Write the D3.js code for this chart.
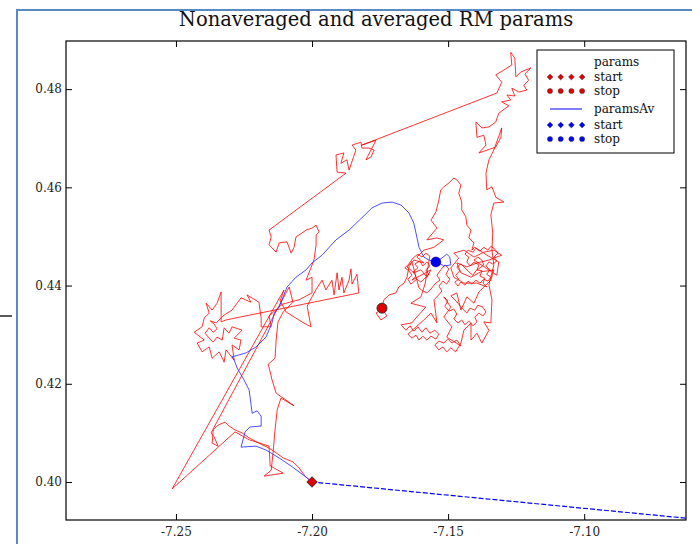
<!DOCTYPE html>
<html>
<head>
<meta charset="utf-8">
<script src="https://cdn.jsdelivr.net/npm/d3@7"></script>
<style>
    body { margin: 0; background: #fff; }
    text { font-family: "DejaVu Serif", serif; }
</style>
</head>
<body>
<div id="chart"></div>
<script>
// params (non averaged), one line per stretch of the walk
const paramsX = [
    -7.2000, -7.2026, -7.2048, -7.2070, -7.2106, -7.2136, -7.2158, -7.2187, -7.2209, -7.2231, -7.2257, -7.2283, -7.2305, -7.2319, -7.2345, -7.2363, -7.2367, -7.2345, -7.2360, -7.2371,
    -7.2084, -7.2070, -7.2106, -7.2125, -7.2132, -7.2136, -7.2161, -7.2147, -7.2132, -7.2066, -7.2114, -7.2128, -7.2136, -7.2143, -7.2150, -7.2176, -7.2106, -7.2154, -7.2158, -7.2231, -7.2283, -7.2514,
    -7.2103, -7.2117, -7.2095, -7.2037, -7.2004, -7.2018, -7.2000, -7.1982, -7.1963, -7.1949, -7.1927, -7.1919, -7.1908, -7.1901, -7.1890, -7.1883, -7.1864, -7.1857, -7.1853, -7.1835, -7.1828,
    -7.2316, -7.2334, -7.2334, -7.2349, -7.2367, -7.2389, -7.2378, -7.2396, -7.2404, -7.2433, -7.2396, -7.2422, -7.2404, -7.2378, -7.2367, -7.2341, -7.2323, -7.2316, -7.2286, -7.2294, -7.2268, -7.2261, -7.2286, -7.2257, -7.2294, -7.2305, -7.2323, -7.2330, -7.2349,
    -7.2363, -7.2378, -7.2393, -7.2378, -7.2363, -7.2349, -7.2360, -7.2374,
    -7.2352, -7.2323, -7.2294, -7.2261, -7.2224, -7.2239, -7.2195, -7.2187, -7.2187, -7.2150, -7.2158, -7.2110, -7.2048, -7.2000, -7.2000, -7.2022, -7.2004, -7.1993, -7.1985, -7.1985, -7.1974, -7.1985, -7.2000, -7.2022, -7.2037, -7.2059, -7.2066, -7.2077, -7.2092, -7.2121, -7.2132, -7.2158, -7.2150, -7.2158,
    -7.1875, -7.1908, -7.1912, -7.1883, -7.1894, -7.1872, -7.1864, -7.1839, -7.1853, -7.1820, -7.1817, -7.1791, -7.1772, -7.1783, -7.1802, -7.1765, -7.1817,
    -7.1321, -7.1303, -7.1325, -7.1295, -7.1266, -7.1270, -7.1255, -7.1251, -7.1233, -7.1196, -7.1218, -7.1204, -7.1222, -7.1211, -7.1240, -7.1266, -7.1255, -7.1284, -7.1270, -7.1303, -7.1277, -7.1314, -7.1325, -7.1350, -7.1376, -7.1398, -7.1394, -7.1369, -7.1361, -7.1387, -7.1325, -7.1306, -7.1303,
    -7.1332, -7.1350, -7.1361, -7.1358, -7.1339, -7.1325, -7.1295, -7.1332, -7.1343, -7.1336, -7.1339, -7.1332, -7.1350, -7.1339, -7.1343, -7.1369, -7.1350, -7.1376, -7.1394, -7.1416, -7.1416, -7.1442, -7.1453, -7.1472,
    -7.1490, -7.1505, -7.1519, -7.1534, -7.1549, -7.1534, -7.1516, -7.1501, -7.1486, -7.1468, -7.1453,
    -7.1505, -7.1486, -7.1516, -7.1490, -7.1516,
    -7.1501, -7.1512, -7.1497, -7.1479, -7.1468, -7.1479, -7.1464, -7.1450, -7.1438, -7.1424, -7.1409, -7.1394, -7.1402, -7.1387, -7.1372, -7.1361, -7.1372, -7.1391, -7.1402, -7.1420, -7.1431, -7.1446, -7.1461, -7.1475, -7.1490,
    -7.1468, -7.1453, -7.1431, -7.1405, -7.1387, -7.1343, -7.1332, -7.1380, -7.1416, -7.1453, -7.1468, -7.1431, -7.1394, -7.1350, -7.1303, -7.1332, -7.1369, -7.1405, -7.1442, -7.1479, -7.1461, -7.1490, -7.1479, -7.1442, -7.1394, -7.1358,
    -7.1372, -7.1365, -7.1383, -7.1376, -7.1394, -7.1387, -7.1405, -7.1420, -7.1431, -7.1424, -7.1438, -7.1427, -7.1409, -7.1398, -7.1383, -7.1369, -7.1354, -7.1343, -7.1328, -7.1317, -7.1332, -7.1321, -7.1336, -7.1350, -7.1361, -7.1347,
    -7.1358, -7.1343, -7.1354, -7.1369, -7.1383, -7.1398, -7.1413, -7.1427, -7.1438, -7.1453, -7.1464, -7.1475, -7.1461, -7.1472, -7.1457, -7.1468, -7.1453, -7.1438, -7.1424, -7.1409, -7.1398, -7.1383, -7.1369, -7.1376, -7.1391, -7.1405,
    -7.1321, -7.1314, -7.1358, -7.1402, -7.1413, -7.1405, -7.1424, -7.1416, -7.1431, -7.1435, -7.1450, -7.1450, -7.1461, -7.1453, -7.1468, -7.1479, -7.1497, -7.1516, -7.1527, -7.1534, -7.1545, -7.1563, -7.1541, -7.1578, -7.1541, -7.1516, -7.1552, -7.1589, -7.1615, -7.1589, -7.1626, -7.1651, -7.1626, -7.1600, -7.1578, -7.1563, -7.1633,
    -7.1618, -7.1629, -7.1611, -7.1622, -7.1604, -7.1593, -7.1578, -7.1567, -7.1582, -7.1571, -7.1585, -7.1600, -7.1615, -7.1637, -7.1648, -7.1633, -7.1644, -7.1659, -7.1644, -7.1629, -7.1611, -7.1596, -7.1582, -7.1567, -7.1585,
    -7.1600, -7.1637, -7.1582, -7.1615, -7.1633, -7.1673,
    -7.1655, -7.1640, -7.1626, -7.1611, -7.1596, -7.1582, -7.1567, -7.1549, -7.1534, -7.1545, -7.1563, -7.1578, -7.1593, -7.1607, -7.1618, -7.1633, -7.1648,
    -7.1589, -7.1563, -7.1541, -7.1552,
    -7.1538, -7.1523, -7.1534, -7.1519, -7.1505, -7.1494, -7.1508, -7.1497, -7.1512, -7.1527, -7.1541, -7.1530, -7.1549, -7.1563, -7.1578, -7.1593,
    -7.1607, -7.1633, -7.1644, -7.1651, -7.1662, -7.1681, -7.1692, -7.1717, -7.1736, -7.1747, -7.1765, -7.1747, -7.1725, -7.1743
];
const paramsY = [
    0.4000, 0.4012, 0.4029, 0.4041, 0.4049, 0.4061, 0.4069, 0.4077, 0.4083, 0.4090, 0.4100, 0.4106, 0.4114, 0.4122, 0.4116, 0.4106, 0.4079, 0.4073, 0.4092, 0.4100,
    0.4397, 0.4366, 0.4346, 0.4326, 0.4289, 0.4252, 0.4240, 0.4208, 0.4181, 0.4155, 0.4171, 0.4147, 0.4106, 0.4061, 0.4024, 0.4012, 0.4018, 0.4033, 0.4073, 0.4086, 0.4102, 0.3986,
    0.4391, 0.4369, 0.4346, 0.4326, 0.4316, 0.4358, 0.4377, 0.4395, 0.4411, 0.4391, 0.4411, 0.4381, 0.4426, 0.4391, 0.4417, 0.4385, 0.4411, 0.4434, 0.4403, 0.4423, 0.4385,
    0.4330, 0.4326, 0.4387, 0.4364, 0.4350, 0.4364, 0.4344, 0.4334, 0.4316, 0.4305, 0.4289, 0.4283, 0.4265, 0.4275, 0.4252, 0.4265, 0.4244, 0.4269, 0.4248, 0.4279, 0.4269, 0.4289, 0.4293, 0.4309, 0.4316, 0.4303, 0.4314, 0.4289, 0.4295,
    0.4285, 0.4293, 0.4303, 0.4314, 0.4305, 0.4312, 0.4322, 0.4328,
    0.4324, 0.4340, 0.4350, 0.4375, 0.4366, 0.4381, 0.4366, 0.4334, 0.4316, 0.4316, 0.4338, 0.4362, 0.4371, 0.4385, 0.4417, 0.4411, 0.4436, 0.4452, 0.4483, 0.4503, 0.4509, 0.4523, 0.4517, 0.4513, 0.4507, 0.4499, 0.4478, 0.4466, 0.4489, 0.4487, 0.4468, 0.4483, 0.4499, 0.4513,
    0.4629, 0.4631, 0.4666, 0.4670, 0.4649, 0.4656, 0.4635, 0.4676, 0.4686, 0.4692, 0.4680, 0.4680, 0.4676, 0.4662, 0.4656, 0.4696, 0.4686,
    0.4792, 0.4814, 0.4829, 0.4839, 0.4849, 0.4875, 0.4863, 0.4825, 0.4835, 0.4843, 0.4831, 0.4818, 0.4808, 0.4798, 0.4794, 0.4802, 0.4786, 0.4788, 0.4778, 0.4774, 0.4766, 0.4751, 0.4733, 0.4723, 0.4721, 0.4733, 0.4702, 0.4706, 0.4686, 0.4670, 0.4682, 0.4702, 0.4721,
    0.4676, 0.4656, 0.4629, 0.4595, 0.4601, 0.4580, 0.4570, 0.4568, 0.4544, 0.4507, 0.4472, 0.4442, 0.4401, 0.4371, 0.4324, 0.4326, 0.4309, 0.4283, 0.4303, 0.4289, 0.4324, 0.4309, 0.4283, 0.4265,
    0.4273, 0.4265, 0.4275, 0.4269, 0.4279, 0.4287, 0.4283, 0.4291, 0.4283, 0.4289, 0.4277,
    0.4295, 0.4316, 0.4336, 0.4356, 0.4377,
    0.4369, 0.4358, 0.4348, 0.4352, 0.4342, 0.4332, 0.4324, 0.4330, 0.4320, 0.4328, 0.4318, 0.4326, 0.4336, 0.4344, 0.4338, 0.4346, 0.4356, 0.4360, 0.4350, 0.4354, 0.4344, 0.4352, 0.4362, 0.4371, 0.4379,
    0.4385, 0.4350, 0.4377, 0.4364, 0.4387, 0.4411, 0.4432, 0.4428, 0.4417, 0.4426, 0.4446, 0.4438, 0.4446, 0.4452, 0.4462, 0.4472, 0.4468, 0.4458, 0.4472, 0.4466, 0.4456, 0.4436, 0.4417, 0.4405, 0.4405, 0.4397,
    0.4405, 0.4415, 0.4419, 0.4430, 0.4432, 0.4442, 0.4448, 0.4440, 0.4448, 0.4458, 0.4464, 0.4472, 0.4468, 0.4476, 0.4470, 0.4478, 0.4472, 0.4480, 0.4474, 0.4466, 0.4458, 0.4450, 0.4444, 0.4448, 0.4440, 0.4432,
    0.4423, 0.4417, 0.4409, 0.4413, 0.4405, 0.4411, 0.4403, 0.4409, 0.4401, 0.4407, 0.4399, 0.4407, 0.4413, 0.4421, 0.4430, 0.4438, 0.4444, 0.4436, 0.4428, 0.4421, 0.4430, 0.4436, 0.4442, 0.4452, 0.4458, 0.4452,
    0.4421, 0.4448, 0.4462, 0.4478, 0.4472, 0.4487, 0.4497, 0.4513, 0.4523, 0.4540, 0.4554, 0.4570, 0.4588, 0.4605, 0.4615, 0.4619, 0.4609, 0.4601, 0.4595, 0.4574, 0.4550, 0.4533, 0.4517, 0.4493, 0.4497, 0.4493, 0.4478, 0.4472, 0.4458, 0.4446, 0.4452, 0.4438, 0.4426, 0.4432, 0.4417, 0.4432, 0.4411,
    0.4419, 0.4428, 0.4436, 0.4444, 0.4450, 0.4440, 0.4448, 0.4440, 0.4432, 0.4423, 0.4415, 0.4407, 0.4413, 0.4403, 0.4413, 0.4421, 0.4430, 0.4436, 0.4444, 0.4456, 0.4464, 0.4458, 0.4466, 0.4460, 0.4403,
    0.4377, 0.4364, 0.4356, 0.4336, 0.4324, 0.4320,
    0.4309, 0.4318, 0.4307, 0.4316, 0.4305, 0.4314, 0.4303, 0.4309, 0.4301, 0.4291, 0.4297, 0.4289, 0.4297, 0.4289, 0.4299, 0.4293, 0.4301,
    0.4330, 0.4344, 0.4324, 0.4371,
    0.4379, 0.4389, 0.4399, 0.4409, 0.4403, 0.4413, 0.4423, 0.4434, 0.4442, 0.4432, 0.4421, 0.4411, 0.4403, 0.4393, 0.4385, 0.4389,
    0.4395, 0.4448, 0.4438, 0.4417, 0.4405, 0.4397, 0.4385, 0.4381, 0.4371, 0.4350, 0.4344, 0.4330, 0.4338, 0.4354
];

// paramsAv (running average)
const paramsAvX = [
    -7.0602, -7.2000, -7.2022, -7.2073, -7.2121, -7.2169, -7.2206, -7.2261, -7.2246, -7.2228,
    -7.2187, -7.2187, -7.2202, -7.2220, -7.2224, -7.2231, -7.2250, -7.2275, -7.2286, -7.2294,
    -7.2279, -7.2242, -7.2206, -7.2169, -7.2147, -7.2139, -7.2121, -7.2092, -7.2059, -7.2022,
    -7.2000, -7.1963, -7.1912, -7.1864, -7.1817, -7.1780, -7.1743, -7.1706, -7.1673, -7.1644,
    -7.1626, -7.1615, -7.1607, -7.1589, -7.1571, -7.1545, -7.1523, -7.1505, -7.1494, -7.1490,
    -7.1516, -7.1534, -7.1545
];
const paramsAvY = [
    0.3925, 0.4000, 0.4010, 0.4031, 0.4049, 0.4065, 0.4073, 0.4071, 0.4102, 0.4112,
    0.4114, 0.4134, 0.4145, 0.4140, 0.4157, 0.4187, 0.4208, 0.4232, 0.4248, 0.4255,
    0.4257, 0.4263, 0.4275, 0.4295, 0.4324, 0.4344, 0.4356, 0.4397, 0.4417, 0.4432,
    0.4446, 0.4462, 0.4493, 0.4513, 0.4538, 0.4558, 0.4568, 0.4570, 0.4564, 0.4548,
    0.4527, 0.4499, 0.4478, 0.4458, 0.4452, 0.4448, 0.4456, 0.4464, 0.4458, 0.4442,
    0.4440, 0.4446, 0.4448
];

const xTicks = [-7.25, -7.20, -7.15, -7.10];
const yTicks = [0.40, 0.42, 0.44, 0.46, 0.48];
const legendLabels = ["params", "start", "stop", "paramsAv", "start", "stop"];
const title = "Nonaveraged and averaged RM params";

function makeTrackChart(selector) {
    const width = 692;
    const height = 544;
    const marginLeft = 66;
    const marginTop = 41;
    const plotWidth = 620;
    const plotHeight = 479;

    const svg = (
        d3.select(selector)
        .append("svg")
        .attr("width", width)
        .attr("height", height)
    );

    // outer frame and the stray dash on the left
    (
        svg.append("rect")
        .attr("x", 17).attr("y", 10)
        .attr("width", 700).attr("height", 560)
        .attr("fill", "none")
        .attr("stroke", "#5a8ac6")
        .attr("stroke-width", 2)
    );
    (
        svg.append("line")
        .attr("x1", 0).attr("x2", 12)
        .attr("y1", 316).attr("y2", 316)
        .attr("stroke", "#222")
        .attr("stroke-width", 1.5)
    );

    (
        svg.append("text")
        .attr("x", 376)
        .attr("y", 26)
        .attr("text-anchor", "middle")
        .attr("font-size", 19.5)
        .attr("fill", "#111")
        .text(title)
    );

    const xScale = d3.scaleLinear().domain([-7.2904, -7.0626]).range([0, plotWidth]);
    const yScale = d3.scaleLinear().domain([0.39226, 0.4898]).range([plotHeight, 0]);

    const g = svg.append("g").attr("transform", `translate(${marginLeft}, ${marginTop})`);

    g.append("clipPath").attr("id", "plotClip")
        .append("rect").attr("width", plotWidth).attr("height", plotHeight);

    const plot = g.append("g").attr("clip-path", "url(#plotClip)");

    const line = d3.line().x((d) => xScale(d[0])).y((d) => yScale(d[1]));
    const red = paramsX.map((x, i) => [x, paramsY[i]]);
    const blue = paramsAvX.map((x, i) => [x, paramsAvY[i]]);

    (
        plot.append("path")
        .attr("d", line(red))
        .attr("fill", "none")
        .attr("stroke", "#ff0000")
        .attr("stroke-width", 0.8)
        .attr("stroke-linejoin", "round")
    );
    // first averaged step runs off the axes, looks broken in the reference
    (
        plot.append("path")
        .attr("d", line(blue.slice(0, 2)))
        .attr("fill", "none")
        .attr("stroke", "#0000ff")
        .attr("stroke-width", 1.2)
        .attr("stroke-dasharray", "5,2")
    );
    (
        plot.append("path")
        .attr("d", line(blue.slice(1)))
        .attr("fill", "none")
        .attr("stroke", "#3030ff")
        .attr("stroke-width", 1)
        .attr("stroke-opacity", 0.85)
    );

    const diamond = d3.symbol().type(d3.symbolDiamond2);
    const redStart = red[0];
    const redStop = red[red.length - 1];
    const blueStart = blue[0];
    const blueStop = blue[blue.length - 1];

    (
        plot.append("path")
        .attr("d", diamond.size(70)())
        .attr("transform", `translate(${xScale(blueStart[0])}, ${yScale(blueStart[1])})`)
        .attr("fill", "#0000ff").attr("stroke", "#000").attr("stroke-width", 0.5)
    );
    (
        plot.append("path")
        .attr("d", diamond.size(70)())
        .attr("transform", `translate(${xScale(redStart[0])}, ${yScale(redStart[1])})`)
        .attr("fill", "#e00000").attr("stroke", "#333").attr("stroke-width", 1)
    );
    (
        plot.append("circle")
        .attr("cx", xScale(redStop[0])).attr("cy", yScale(redStop[1]))
        .attr("r", 5)
        .attr("fill", "#e00000").attr("stroke", "#333").attr("stroke-width", 1)
    );
    (
        plot.append("circle")
        .attr("cx", xScale(blueStop[0])).attr("cy", yScale(blueStop[1]))
        .attr("r", 5)
        .attr("fill", "#0000ee").attr("stroke", "#000080").attr("stroke-width", 0.5)
    );

    // axes, ticks point inward on all four sides
    const fmt = (d) => d3.format(".2f")(d).replace("\u2212", "-");
    const styleAxis = (sel) => {
        sel.select(".domain").remove();
        sel.selectAll(".tick line").attr("stroke", "#000");
        sel.selectAll(".tick text")
            .attr("font-family", "DejaVu Serif, serif")
            .attr("font-size", 12)
            .attr("fill", "#222");
    };
    (
        g.append("g")
        .attr("transform", `translate(0, ${plotHeight})`)
        .call(d3.axisBottom(xScale).tickValues(xTicks).tickSize(-6).tickPadding(7).tickFormat(fmt))
        .call(styleAxis)
    );
    (
        g.append("g")
        .call(d3.axisTop(xScale).tickValues(xTicks).tickSize(-6).tickFormat(""))
        .call(styleAxis)
    );
    (
        g.append("g")
        .call(d3.axisLeft(yScale).tickValues(yTicks).tickSize(-6).tickPadding(4).tickFormat(fmt))
        .call(styleAxis)
    );
    (
        g.append("g")
        .attr("transform", `translate(${plotWidth}, 0)`)
        .call(d3.axisRight(yScale).tickValues(yTicks).tickSize(-6).tickFormat(""))
        .call(styleAxis)
    );
    (
        g.append("rect")
        .attr("width", plotWidth).attr("height", plotHeight)
        .attr("fill", "none").attr("stroke", "#000").attr("stroke-width", 1.2)
    );

    // legend
    const legend = svg.append("g").attr("transform", "translate(537, 50)");
    (
        legend.append("rect")
        .attr("width", 137).attr("height", 103)
        .attr("fill", "#fff").attr("stroke", "#000").attr("stroke-width", 1)
    );
    const rowY = [12, 27, 41, 59, 75, 89];
    const colors = ["#ff0000", "#e00000", "#e00000", "#0000ff", "#0000ff", "#0000ff"];
    const kinds = ["none", "diamond", "circle", "line", "diamond", "circle"];
    for (let i = 0; i < legendLabels.length; ++i) {
        (
            legend.append("text")
            .attr("x", 57)
            .attr("y", rowY[i])
            .attr("dy", "0.32em")
            .attr("font-size", 12)
            .attr("fill", "#111")
            .text(legendLabels[i])
        );
        if (kinds[i] === "line") {
            (
                legend.append("line")
                .attr("x1", 13).attr("x2", 45)
                .attr("y1", rowY[i]).attr("y2", rowY[i])
                .attr("stroke", colors[i]).attr("stroke-width", 1)
            );
        }
        for (let k = 0; k < 4 && (kinds[i] === "diamond" || kinds[i] === "circle"); ++k) {
            const cx = 13 + k * 10.7;
            if (kinds[i] === "diamond") {
                (
                    legend.append("path")
                    .attr("d", diamond.size(22)())
                    .attr("transform", `translate(${cx}, ${rowY[i]})`)
                    .attr("fill", colors[i]).attr("stroke", "#333").attr("stroke-width", 0.4)
                );
            } else {
                (
                    legend.append("circle")
                    .attr("cx", cx).attr("cy", rowY[i]).attr("r", 2.6)
                    .attr("fill", colors[i]).attr("stroke", "#333").attr("stroke-width", 0.4)
                );
            }
        }
    }
}

makeTrackChart("#chart");
</script>
</body>
</html>
